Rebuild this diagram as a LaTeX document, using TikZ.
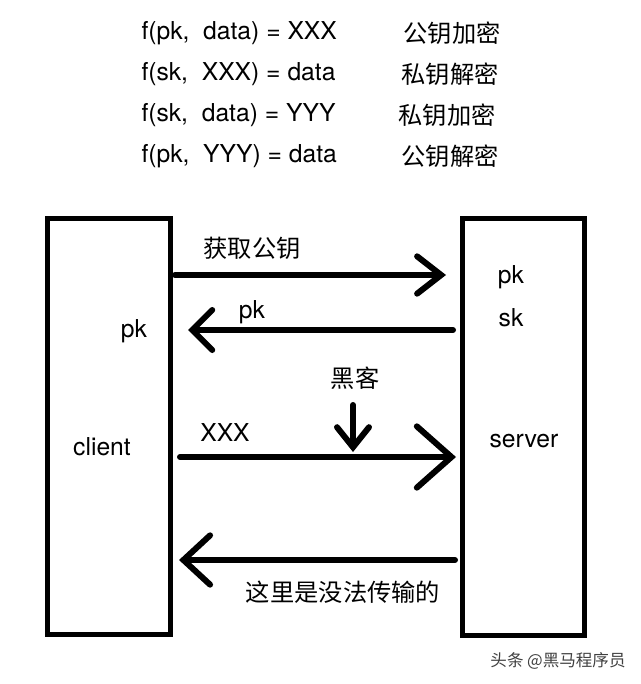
\documentclass[tikz,border=0pt]{standalone}
\usepackage{fontspec}
\setmainfont{TeX Gyre Heros}
\newfontfamily\cjk{Noto Sans CJK SC}
\usetikzlibrary{arrows.meta}

\tikzset{every picture/.style={line width=0.75pt}}
\tikzset{
  lattext/.style={inner sep=0pt, font=\fontsize{18.5}{20}\selectfont},
  cjktext/.style={inner sep=0pt, font=\cjk\fontsize{18.2}{20}\selectfont},
  hostbox/.style={line width=3.75pt, line join=miter},
  link/.style={line width=4.5pt, line cap=round}
}

\begin{document}
\begin{tikzpicture}[x=0.75pt,y=0.75pt,yscale=-1,xscale=1]
\path[use as bounding box] (0,0) rectangle (640,684);

% Formulas
\draw (141,33) node (fa) [lattext, anchor=west] {f(pk,~~data) = XXX};
\draw (141,74) node (fb) [lattext, anchor=west] {f(sk,~~XXX) = data};
\draw (141,115) node (fc) [lattext, anchor=west] {f(sk,~~data) = YYY};
\draw (141,156) node (fd) [lattext, anchor=west] {f(pk,~~YYY) = data};
\draw (452,33) node (ca) [cjktext] {公钥加密};
\draw (450,74) node (cb) [cjktext] {私钥解密};
\draw (447,115) node (cc) [cjktext] {私钥加密};
\draw (450,156) node (cd) [cjktext] {公钥解密};

%Shape: Rectangle
\draw [hostbox] (47,218) -- (170,218) -- (170,634) -- (47,634) -- cycle ;
%Shape: Rectangle
\draw [hostbox] (462,218) -- (584,218) -- (584,635) -- (462,635) -- cycle ;

% Text Node
\draw (102,447) node (client) [lattext] {client};
\draw (134,331) node (pkc) [lattext] {pk};
\draw (524,441) node (server) [lattext] {server};
\draw (511,277) node (pks) [lattext] {pk};
\draw (511,318) node (sks) [lattext] {sk};

% Arrows
\coordinate (getA) at (175,275);
\coordinate (getB) at (446,275);
\draw [link, -{Straight Barb[length=18pt, width=28pt, line cap=round]}] (getA) -- (getB);
\draw (252,248) node (lblget) [cjktext] {获取公钥};

\coordinate (pkA) at (453,330);
\coordinate (pkB) at (188,330);
\draw [link, -{Straight Barb[length=15pt, width=30pt, line cap=round]}] (pkA) -- (pkB);
\draw (252,312) node (lblpk) [lattext] {pk};

\coordinate (xA) at (180,457);
\coordinate (xB) at (456,457);
\draw [link, -{Straight Barb[length=26pt, width=46pt, line cap=round]}] (xA) -- (xB);
\draw (225,433) node (lblx) [lattext] {XXX};

\coordinate (hkA) at (353,405);
\coordinate (hkB) at (353,452);
\draw [link, -{Straight Barb[length=15pt, width=24pt, line cap=round]}] (hkA) -- (hkB);
\draw (355,378) node (hacker) [cjktext] {黑客};

\coordinate (noA) at (455,560);
\coordinate (noB) at (179,560);
\draw [link, -{Straight Barb[length=20pt, width=37pt, line cap=round]}] (noA) -- (noB);
\draw (343,592) node (lblno) [cjktext] {这里是没法传输的};

% Watermark
\draw (558,661) node (mark) [inner sep=0pt, text=black!75, font=\cjk\fontsize{12.4}{13}\selectfont] {头条 @黑马程序员};

\end{tikzpicture}
\end{document}
